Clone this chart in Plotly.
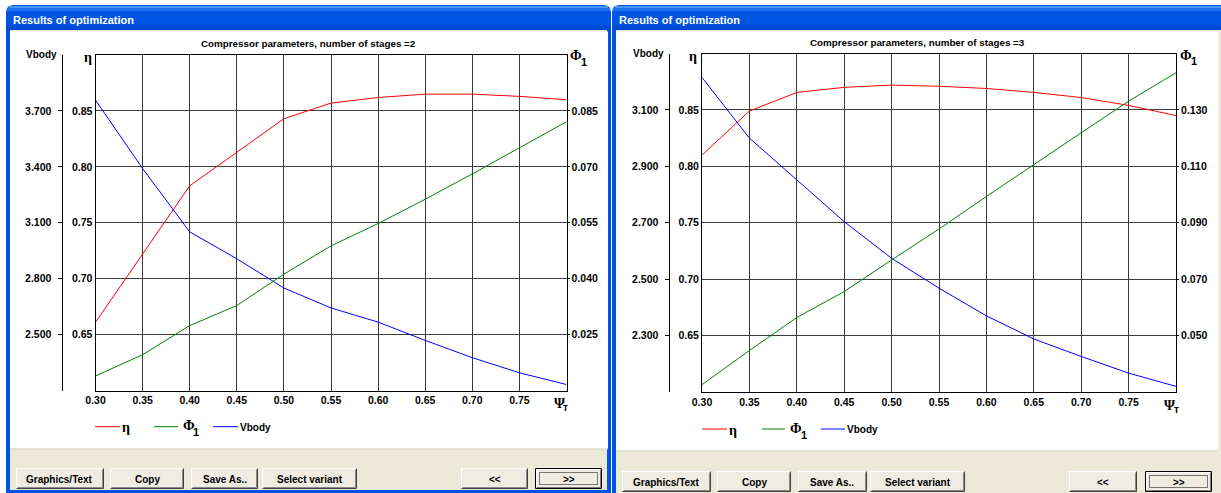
import plotly.graph_objects as go

W, H = 1221, 493

# ---------------- data ----------------
psi_t = [0.30, 0.35, 0.40, 0.45, 0.50, 0.55, 0.60, 0.65, 0.70, 0.75, 0.80]
x_tick_vals = [0.30, 0.35, 0.40, 0.45, 0.50, 0.55, 0.60, 0.65, 0.70, 0.75]
x_tick_text = ["0.30", "0.35", "0.40", "0.45", "0.50", "0.55", "0.60", "0.65", "0.70", "0.75"]

# number of stages = 2
eta_2 = [0.661, 0.722, 0.783, 0.813, 0.843, 0.857, 0.862, 0.865, 0.865, 0.863, 0.860]
phi1_2 = [0.0139, 0.0196, 0.0274, 0.0328, 0.0412, 0.0488, 0.0548, 0.0613, 0.0681, 0.0752, 0.0821]
vbody_2 = [3.758, 3.391, 3.051, 2.907, 2.750, 2.643, 2.567, 2.469, 2.376, 2.295, 2.232]

# number of stages = 3
eta_3 = [0.810, 0.849, 0.8655, 0.870, 0.872, 0.871, 0.869, 0.8655, 0.861, 0.854, 0.845]
phi1_3 = [0.0326, 0.0447, 0.0564, 0.0656, 0.0768, 0.0878, 0.0993, 0.1107, 0.1219, 0.1331, 0.1432]
vbody_3 = [3.215, 3.000, 2.852, 2.704, 2.574, 2.468, 2.370, 2.288, 2.226, 2.167, 2.120]

eta_tick_vals = [0.65, 0.70, 0.75, 0.80, 0.85]
eta_tick_text = ["0.65", "0.70", "0.75", "0.80", "0.85"]
vbody_tick_vals_2 = [2.5, 2.8, 3.1, 3.4, 3.7]
vbody_tick_text_2 = ["2.500", "2.800", "3.100", "3.400", "3.700"]
phi1_tick_vals_2 = [0.025, 0.040, 0.055, 0.070, 0.085]
phi1_tick_text_2 = ["0.025", "0.040", "0.055", "0.070", "0.085"]
vbody_tick_vals_3 = [2.3, 2.5, 2.7, 2.9, 3.1]
vbody_tick_text_3 = ["2.300", "2.500", "2.700", "2.900", "3.100"]
phi1_tick_vals_3 = [0.050, 0.070, 0.090, 0.110, 0.130]
phi1_tick_text_3 = ["0.050", "0.070", "0.090", "0.110", "0.130"]

# symbol + subscript for each series name
series_symbols = [("η", ""), ("Φ", "1"), ("Vbody", "")]
series_colors = ["#FF0000", "#008000", "#0000FF"]
x_symbol = ("Ψ", "т")

window_title = "Results of optimization"
chart_titles = ["Compressor parameters, number of stages =2",
                "Compressor parameters, number of stages =3"]
button_labels = ["Graphics/Text", "Copy", "Save As..", "Select variant", "<<", ">>"]

# ---------------- helpers ----------------
SANS = "Liberation Sans"
SERIF = "Liberation Serif"
BEIGE = "#ECE9D8"
GRID = "#3A3A3A"


def fx(x):
    return x / W


def fy(y):
    return 1 - y / H


shapes = []
annotations = []


def rect(x0, y0, x1, y1, fill, line=None, lw=1, dash=None):
    shapes.append(dict(type="rect", xref="paper", yref="paper", layer="below",
                       x0=fx(x0), x1=fx(x1), y0=fy(y1), y1=fy(y0),
                       fillcolor=fill,
                       line=dict(color=line or "rgba(0,0,0,0)", width=lw if line else 0,
                                 dash=dash or "solid")))


def path(points, color, lw=1, fill=None, closed=False):
    d = "M" + " L".join(f"{fx(x):.6f},{fy(y):.6f}" for x, y in points)
    if closed:
        d += " Z"
    shapes.append(dict(type="path", xref="paper", yref="paper", layer="below", path=d,
                       fillcolor=fill or "rgba(0,0,0,0)",
                       line=dict(color=color, width=lw)))


def text(x, y, s, size=10.5, xanchor="left", color="black", family=SANS, bold=True):
    annotations.append(dict(xref="paper", yref="paper", x=fx(x), y=fy(y), text=s,
                            showarrow=False, xanchor=xanchor, yanchor="middle",
                            font=dict(family=family, size=size, color=color,
                                      weight="bold" if bold else "normal"),
                            borderpad=0))


def symbol(x, y, main, sub, size=14, sub_dx=10, sub_dy=6, sub_size=11):
    # serif glyph with a separately placed subscript
    text(x, y, main, size=size, family=SERIF)
    if sub:
        text(x + sub_dx, y + sub_dy, sub, size=sub_size, family=SANS)


def window(x0, x1, y_bottom, panel_bottom, panel_right, title_x):
    # rounded blue frame
    r = 7
    pts = [(x0, y_bottom), (x0, 5 + r), (x0 + 1, 5 + 3), (x0 + 3, 5 + 1), (x0 + r, 5),
           (x1 - r, 5), (x1 - 3, 5 + 1), (x1 - 1, 5 + 3), (x1, 5 + r), (x1, y_bottom)]
    path(pts, "rgba(0,0,0,0)", 0, fill="#0054E3", closed=True)
    # title bar shading
    rect(x0 + 3, 6, x1 - 3, 8, "#4593F8")
    rect(x0 + 1, 8, x1 - 1, 11, "#1E71F0")
    rect(x0, 26, x1, 30, "#0048D2")
    # client area
    rect(x0 + 4, 30, x1 - 4, y_bottom - 3, BEIGE)
    rect(x0 + 4, 31.5, panel_right, panel_bottom, "white")
    path([(x0 + 4, panel_bottom + 0.5), (panel_right, panel_bottom + 0.5)], "#D8D4C8", 1)
    text(title_x, 19.5, window_title, size=11, color="white")


def button(x0, x1, y0, y1, label, default=False):
    rect(x0, y0, x1, y1, "#EFECE2")
    if default:
        rect(x0 + 0.5, y0 + 0.5, x1 - 0.5, y1 - 0.5, "rgba(0,0,0,0)", line="black", lw=1)
        path([(x0 + 1.5, y1 - 1.5), (x0 + 1.5, y0 + 1.5), (x1 - 1.5, y0 + 1.5)], "white", 1)
        path([(x0 + 1.5, y1 - 1.5), (x1 - 1.5, y1 - 1.5), (x1 - 1.5, y0 + 1.5)], "#7A7A7A", 1)
        rect(x0 + 4.5, y0 + 4.5, x1 - 4.5, y1 - 4.5, "rgba(0,0,0,0)", line="black", lw=1,
             dash="1px,1px")
    else:
        path([(x0 + 0.5, y1 - 0.5), (x0 + 0.5, y0 + 0.5), (x1 - 0.5, y0 + 0.5)], "white", 1)
        path([(x0 + 0.5, y1 - 0.5), (x1 - 0.5, y1 - 0.5), (x1 - 0.5, y0 + 0.5)], "#404040", 1)
        path([(x0 + 1.5, y1 - 1.5), (x1 - 1.5, y1 - 1.5), (x1 - 1.5, y0 + 1.5)], "#8A8A8A", 1)
    text((x0 + x1) / 2, (y0 + y1) / 2 + 0.5, label, size=10, xanchor="center")


# ---------------- window chrome ----------------
window(6, 611, 493, 448.5, 608, 12)
window(612, 1232, 500, 450.5, 1218, 618)

left_button_pos = [(16, 104), (110, 184), (191, 258), (262, 357), (461, 528), (535, 602)]
right_button_pos = [(622, 711), (717, 791), (798, 867), (870, 965), (1069, 1137), (1145, 1212)]
for (a, b), lab in zip(left_button_pos, button_labels):
    button(a, b, 468, 489, lab, default=(lab == ">>"))
for (a, b), lab in zip(right_button_pos, button_labels):
    button(a, b, 471, 492, lab, default=(lab == ">>"))

# ---------------- charts ----------------
fig = go.Figure()

panels = [
    dict(eta=eta_2, phi=phi1_2, vb=vbody_2, title=chart_titles[0],
         px0=95.5, px1=566.5, py0=55, py1=390.5, vb_pos=61.5,
         vb_range=[2.2, 4.0], phi_range=[0.010, 0.100],
         vb_vals=vbody_tick_vals_2, vb_text=vbody_tick_text_2,
         phi_vals=phi1_tick_vals_2, phi_text=phi1_tick_text_2,
         title_x=308, title_y=44, vb_lab=(58, 54.5), eta_lab=(83, 57.5),
         phi_lab=(569, 55.5), psi_lab=(552.5, 403), leg_y=426.7,
         leg=[(95, 120, 121), (154, 178, 181.5), (213, 238, 239)]),
    dict(eta=eta_3, phi=phi1_3, vb=vbody_3, title=chart_titles[1],
         px0=702, px1=1176, py0=53.5, py1=392, vb_pos=668.5,
         vb_range=[2.1, 3.3], phi_range=[0.030, 0.150],
         vb_vals=vbody_tick_vals_3, vb_text=vbody_tick_text_3,
         phi_vals=phi1_tick_vals_3, phi_text=phi1_tick_text_3,
         title_x=917.5, title_y=43, vb_lab=(664.5, 53.5), eta_lab=(688, 57),
         phi_lab=(1179, 55), psi_lab=(1163, 405), leg_y=429,
         leg=[(702, 727, 727.5), (762, 785, 789), (821, 845, 846)]),
]

TICKFONT = dict(family=SANS, size=10.5, color="black", weight="bold")
layout_axes = {}


def ykey(name):
    return "yaxis" if name == "y" else "yaxis" + name[1:]


for i, p in enumerate(panels):
    xa = "x" if i == 0 else "x2"
    ya_eta = "y" if i == 0 else "y4"
    ya_vb = "y2" if i == 0 else "y5"
    ya_phi = "y3" if i == 0 else "y6"
    xkey = "xaxis" if i == 0 else "xaxis2"

    layout_axes[xkey] = dict(domain=[fx(p["px0"]), fx(p["px1"])], range=[0.3, 0.8],
                             anchor=ya_eta, tickvals=x_tick_vals, ticktext=x_tick_text,
                             showgrid=True, gridcolor=GRID, gridwidth=1,
                             showline=True, linecolor="black", linewidth=1, mirror=True,
                             ticks="", zeroline=False, tickfont=TICKFONT)
    layout_axes[ykey(ya_eta)] = dict(domain=[fy(p["py1"]), fy(p["py0"])], range=[0.6, 0.9],
                                     anchor=xa, tickvals=eta_tick_vals, ticktext=eta_tick_text,
                                     showgrid=True, gridcolor=GRID, gridwidth=1,
                                     showline=True, linecolor="black", linewidth=1, mirror=True,
                                     ticks="", zeroline=False, tickfont=TICKFONT)
    layout_axes[ykey(ya_vb)] = dict(overlaying=ya_eta, anchor="free", position=fx(p["vb_pos"]),
                                    side="left", range=p["vb_range"],
                                    tickvals=p["vb_vals"], ticktext=p["vb_text"],
                                    showgrid=False, zeroline=False, showline=True,
                                    linecolor="black", linewidth=1,
                                    ticks="outside", ticklen=4, tickcolor="black",
                                    ticklabelstandoff=4, tickfont=TICKFONT)
    layout_axes[ykey(ya_phi)] = dict(overlaying=ya_eta, anchor=xa, side="right",
                                     range=p["phi_range"],
                                     tickvals=p["phi_vals"], ticktext=p["phi_text"],
                                     showgrid=False, zeroline=False, showline=False,
                                     ticks="outside", ticklen=2, tickcolor="black",
                                     tickfont=TICKFONT)

    names = ["η", "Φ1", "Vbody"]
    for vals, ya, name, color in [(p["eta"], ya_eta, names[0], series_colors[0]),
                                  (p["phi"], ya_phi, names[1], series_colors[1]),
                                  (p["vb"], ya_vb, names[2], series_colors[2])]:
        fig.add_trace(go.Scatter(x=psi_t, y=vals, xaxis=xa, yaxis=ya, mode="lines",
                                 name=name, showlegend=False,
                                 line=dict(color=color, width=1)))

    # titles and axis captions
    text(p["title_x"], p["title_y"], p["title"], size=9.8, xanchor="center")
    text(p["vb_lab"][0], p["vb_lab"][1], "Vbody", size=10, xanchor="right")
    symbol(p["eta_lab"][0], p["eta_lab"][1], "η", "", size=14)
    symbol(p["phi_lab"][0], p["phi_lab"][1], *series_symbols[1], size=14,
           sub_dx=10.5, sub_dy=6, sub_size=11)
    symbol(p["psi_lab"][0], p["psi_lab"][1], *x_symbol, size=14,
           sub_dx=9.5, sub_dy=4.5, sub_size=10)

    # series key under the chart
    for (a, b, t), (main, sub), col in zip(p["leg"], series_symbols, series_colors):
        path([(a, p["leg_y"]), (b, p["leg_y"])], col, 1)
        if main == "Vbody":
            text(t, p["leg_y"] + 0.5, main, size=10)
        else:
            symbol(t, p["leg_y"] + (1 if sub == "" else -1), main, sub, size=14,
                   sub_dx=10.5, sub_dy=6.5, sub_size=11)

fig.update_layout(width=W, height=H, autosize=False,
                  margin=dict(l=0, r=0, t=0, b=0, pad=0, autoexpand=False),
                  paper_bgcolor="white", plot_bgcolor="white",
                  showlegend=False, shapes=shapes, annotations=annotations,
                  **layout_axes)

fig.write_html("out.html")
